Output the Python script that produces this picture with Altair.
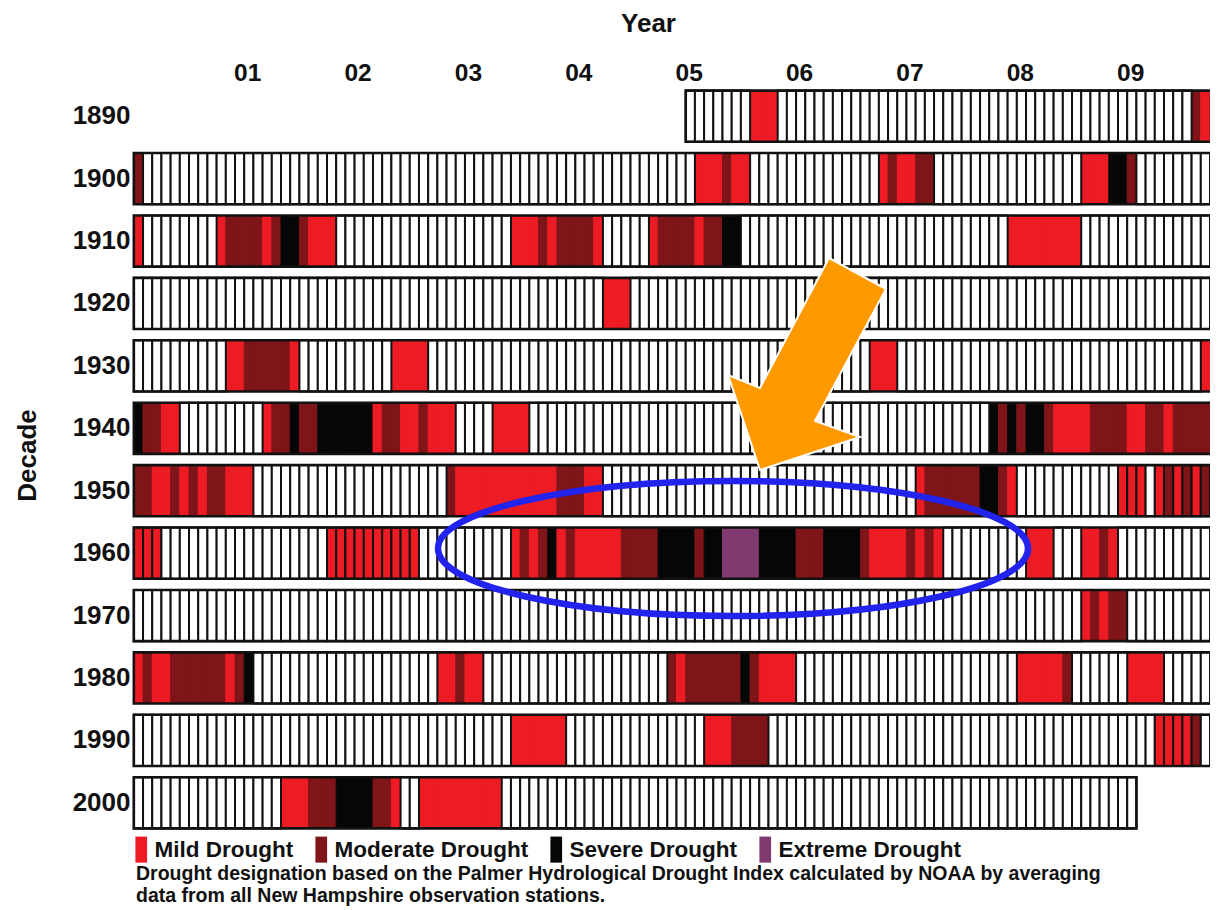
import altair as alt
import pandas as pd

FONT = "Liberation Sans"
INK = "#111111"

decades = ["1890", "1900", "1910", "1920", "1930", "1940",
           "1950", "1960", "1970", "1980", "1990", "2000"]
first_month = {"1890": 60}     # record begins January 1895
last_month = {"2000": 108}     # record ends January 2009

levels = ["Mild Drought", "Moderate Drought", "Severe Drought", "Extreme Drought"]
level_colors = ["#ed1c24", "#7f1519", "#050707", "#803a70"]

year_ticks = [12, 24, 36, 48, 60, 72, 84, 96, 108]
year_labels = ["01", "02", "03", "04", "05", "06", "07", "08", "09"]

# drought episodes: (first month, last month, level 1..4); months 0..119 from January of the decade
d1890 = [(67, 69, 1), (115, 115, 2), (116, 116, 1), (117, 119, 2)]
d1900 = [(0, 0, 2), (61, 63, 1), (64, 64, 2), (65, 66, 1), (81, 81, 1), (82, 82, 2),
         (83, 84, 1), (85, 86, 2), (103, 105, 1), (106, 107, 3), (108, 108, 2), (117, 119, 1)]
d1910 = [(0, 0, 1), (9, 9, 1), (10, 13, 2), (14, 14, 1), (15, 15, 2), (16, 17, 3), (18, 18, 2),
         (19, 21, 1), (41, 43, 1), (44, 44, 2), (45, 45, 1), (46, 49, 2), (50, 50, 1), (56, 56, 1),
         (57, 60, 2), (61, 61, 1), (62, 63, 2), (64, 65, 3), (95, 102, 1)]
d1920 = [(51, 53, 1)]
d1930 = [(10, 11, 1), (12, 16, 2), (17, 17, 1), (28, 31, 1), (80, 82, 1), (116, 119, 1)]
d1940 = [(0, 0, 3), (1, 2, 2), (3, 4, 1), (14, 14, 1), (15, 16, 2), (17, 17, 3), (18, 19, 2),
         (20, 25, 3), (26, 26, 1), (27, 28, 2), (29, 30, 1), (31, 31, 2), (32, 34, 1), (39, 42, 1),
         (93, 93, 3), (94, 94, 2), (95, 95, 3), (96, 96, 2), (97, 98, 3), (99, 99, 2), (100, 103, 1),
         (104, 107, 2), (108, 109, 1), (110, 111, 2), (112, 112, 1), (113, 119, 2)]
d1950 = [(0, 1, 2), (2, 3, 1), (4, 4, 2), (5, 5, 1), (6, 6, 2), (7, 7, 1), (8, 9, 2), (10, 12, 1),
         (34, 34, 2), (35, 45, 1), (46, 48, 2), (49, 50, 1), (85, 85, 1), (86, 91, 2), (92, 93, 3),
         (94, 94, 2), (95, 95, 1), (107, 109, 1), (111, 111, 1), (112, 112, 2), (113, 113, 1),
         (114, 114, 2), (115, 115, 1), (116, 116, 2)]
d1960 = [(0, 2, 1), (21, 30, 1), (41, 41, 1), (42, 42, 2), (43, 43, 1), (44, 44, 2), (45, 45, 3),
         (46, 46, 1), (47, 47, 2), (48, 52, 1), (53, 56, 2), (57, 60, 3), (61, 61, 2), (62, 63, 3),
         (64, 67, 4), (68, 71, 3), (72, 74, 2), (75, 78, 3), (79, 79, 2), (80, 83, 1), (84, 84, 2),
         (85, 85, 1), (86, 86, 2), (87, 87, 1), (97, 99, 1), (103, 104, 1), (105, 105, 2), (106, 106, 1)]
d1970 = [(103, 103, 1), (104, 104, 2), (105, 105, 1), (106, 107, 2)]
d1980 = [(0, 0, 1), (1, 1, 2), (2, 3, 1), (4, 9, 2), (10, 10, 1), (11, 11, 2), (12, 12, 3),
         (33, 34, 1), (35, 35, 2), (36, 37, 1), (58, 58, 2), (59, 59, 1), (60, 65, 2), (66, 66, 3),
         (67, 67, 2), (68, 71, 1), (96, 100, 1), (101, 101, 2), (108, 111, 1)]
d1990 = [(41, 46, 1), (62, 64, 1), (65, 68, 2), (111, 114, 1), (115, 115, 2)]
d2000 = [(16, 18, 1), (19, 21, 2), (22, 25, 3), (26, 27, 2), (28, 28, 1), (31, 39, 1)]

episodes = dict(zip(decades, [d1890, d1900, d1910, d1920, d1930, d1940,
                              d1950, d1960, d1970, d1980, d1990, d2000]))

# month ranges that the original draws as separately outlined cells
outlined_runs = [("1950", 107, 116), ("1960", 0, 2), ("1960", 21, 30), ("1990", 111, 115)]

footnote = ["Drought designation based on the Palmer Hydrological Drought Index calculated by NOAA by averaging",
            "data from all New Hampshire observation stations."]

# ---- build tables from the arrays ----
cell_rows, frame_rows = [], []
for d in decades:
    a, b = first_month.get(d, 0), last_month.get(d, 119)
    frame_rows.append({"decade": d, "m0": a, "m1": b + 1})
    lv = {}
    for s, e, c in episodes[d]:
        for m in range(s, e + 1):
            lv[m] = levels[c - 1]
    for m in range(a, b + 1):
        level = lv.get(m, "None")
        boxed = level == "None" or any(od == d and s <= m <= e for od, s, e in outlined_runs)
        cell_rows.append({"decade": d, "m0": m, "m1": m + 1, "level": level, "boxed": boxed})
cells = pd.DataFrame(cell_rows)
frames = pd.DataFrame(frame_rows)

x_enc = alt.X("m0:Q",
              scale=alt.Scale(domain=[-0.2, 117], nice=False, zero=False),
              axis=alt.Axis(orient="top", values=year_ticks,
                            labelExpr=f"{year_labels}[indexof({year_ticks}, datum.value)]",
                            domain=False, ticks=False, grid=False,
                            labelFont=FONT, labelFontSize=24.5, labelFontWeight="bold",
                            labelColor=INK, labelPadding=0, labelOffset=3,
                            titleFont=FONT, titleFontSize=26, titleFontWeight="bold",
                            titleColor=INK, titleX=516, titleY=-53.5,
                            titleBaseline="alphabetic", titleAlign="center"),
              title="Year")
y_enc = alt.Y("decade:N",
              scale=alt.Scale(domain=decades, paddingInner=0.18, paddingOuter=0.09),
              axis=alt.Axis(domain=False, ticks=False, grid=False,
                            labelFont=FONT, labelFontSize=26, labelFontWeight="bold",
                            labelColor=INK, labelPadding=2,
                            titleFont=FONT, titleFontSize=26, titleFontWeight="bold",
                            titleColor=INK, titleX=-97, titleY=370,
                            titleBaseline="alphabetic", titleAlign="center"),
              title="Decade")

legend_symbol = "M -0.975 -2.17 L 0.975 -2.17 L 0.975 2.17 L -0.975 2.17 Z"

fill_scale = alt.Scale(domain=["None"] + levels, range=["#ffffff"] + level_colors)
fill_enc = alt.Fill("level:N", scale=fill_scale,
                    legend=alt.Legend(orient="none", legendX=-2, legendY=753,
                                      direction="horizontal", title=None, values=levels,
                                      symbolType=legend_symbol, symbolSize=144,
                                      symbolStrokeWidth=0, symbolOpacity=1,
                                      labelFont=FONT, labelFontSize=22.5, labelFontWeight="bold",
                                      labelColor=INK, labelOffset=2, columnPadding=16,
                                      padding=0, labelLimit=0))

solid = alt.Chart(cells).transform_filter("!datum.boxed").mark_rect(
    clip=True, strokeWidth=1
).encode(
    x=x_enc, x2="m1:Q", y=y_enc, fill=fill_enc,
    stroke=alt.Stroke("level:N", scale=alt.Scale(domain=levels, range=level_colors), legend=None),
)

boxed = alt.Chart(cells).transform_filter("datum.boxed").mark_rect(
    clip=True, stroke=INK, strokeWidth=2.0
).encode(x=x_enc, x2="m1:Q", y=y_enc, fill=fill_enc)

frame = alt.Chart(frames).mark_rect(
    clip=True, fillOpacity=0, stroke=INK, strokeWidth=2.6
).encode(x=x_enc, x2="m1:Q", y=y_enc)

# annotation shapes
k = 0.5523
r = 0.2288
ellipse_path = (f"M 1 0 C 1 {k*r:.4f} {k:.4f} {r} 0 {r} "
                f"C {-k:.4f} {r} -1 {k*r:.4f} -1 0 "
                f"C -1 {-k*r:.4f} {-k:.4f} {-r} 0 {-r} "
                f"C {k:.4f} {-r} 1 {-k*r:.4f} 1 0 Z")
arrow_path = "M 0.22 -1.06 L 0.79 -0.75 L 0.08 0.57 L 0.53 0.73 L -0.47 1.06 L -0.79 0.11 L -0.47 0.24 Z"

one = pd.DataFrame({"k": [0]})
ellipse = alt.Chart(one).mark_point(
    shape=ellipse_path, size=348100, filled=False, stroke="#2323ee",
    strokeWidth=6.5, opacity=1
).encode(x=alt.value(601), y=alt.value(463.5))

arrow = alt.Chart(one).mark_point(
    shape=arrow_path, size=40000, filled=True, fill="#ff9900",
    stroke="white", strokeWidth=2, opacity=1
).encode(x=alt.value(675), y=alt.value(279))

note = alt.Chart(pd.DataFrame({"t": ["\n".join(footnote)]})).mark_text(
    align="left", baseline="top", lineBreak="\n", lineHeight=22,
    font=FONT, fontSize=19.5, fontWeight="bold", color=INK
).encode(x=alt.value(4), y=alt.value(780), text="t:N")

chart = alt.layer(solid, boxed, frame, ellipse, arrow, note).properties(
    width=1078, height=749,
    padding={"left": 124, "top": 77, "right": 2, "bottom": 76},
    autosize=alt.AutoSizeParams(type="none"),
).configure_view(strokeWidth=0)

chart.save("out.html", embed_options={"renderer": "svg", "actions": False})
